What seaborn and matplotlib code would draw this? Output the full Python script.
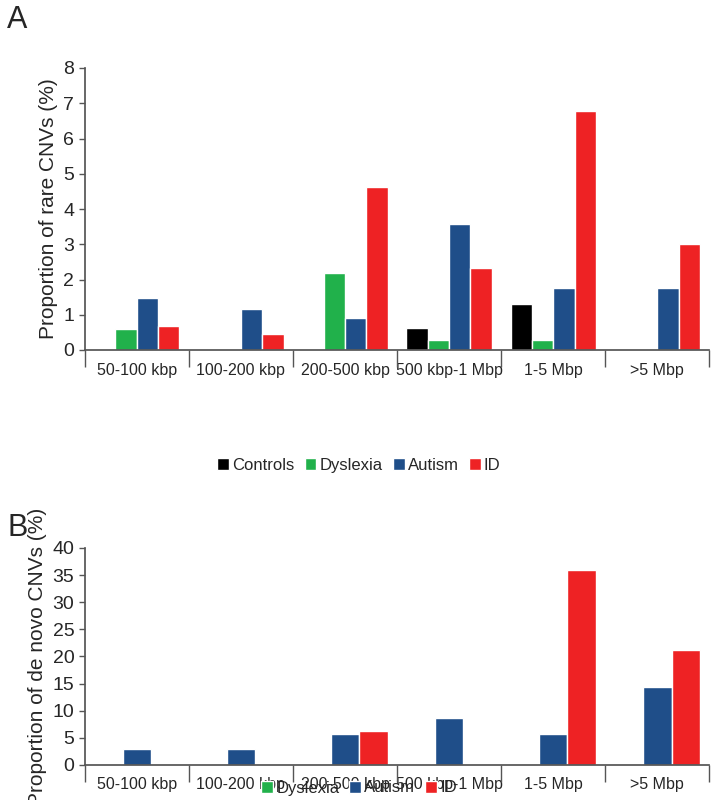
import matplotlib
matplotlib.use("Agg")
import matplotlib.pyplot as plt
import seaborn as sns
import pandas as pd
import numpy as np
from matplotlib.ticker import FixedLocator

sns.set_theme(style="white")
plt.rcParams['font.family'] = ['Liberation Sans', 'DejaVu Sans']

categories = ["50-100 kbp", "100-200 kbp", "200-500 kbp", "500 kbp-1 Mbp", "1-5 Mbp", ">5 Mbp"]
rare_controls = [0, 0, 0, 0.62, 1.3, 0]
rare_dyslexia = [0.6, 0, 2.18, 0.28, 0.28, 0]
rare_autism = [1.47, 1.16, 0.9, 3.57, 1.76, 1.76]
rare_id = [0.68, 0.45, 4.62, 2.33, 6.78, 3.0]
denovo_dyslexia = [0, 0, 0, 0, 0, 0]
denovo_autism = [2.86, 2.86, 5.7, 8.6, 5.7, 14.3]
denovo_id = [0, 0, 6.2, 0, 36.0, 21.2]

colors = {"Controls": "#000000", "Dyslexia": "#21b14b", "Autism": "#1f4e89", "ID": "#ee2224"}

def long(d):
    rows = []
    for k, v in d.items():
        for c, x in zip(categories, v):
            rows.append((c, k, x))
    return pd.DataFrame(rows, columns=["cat", "grp", "val"])

dfA = long({"Controls": rare_controls, "Dyslexia": rare_dyslexia, "Autism": rare_autism, "ID": rare_id})
dfB = long({"Dyslexia": denovo_dyslexia, "Autism": denovo_autism, "ID": denovo_id})

fig = plt.figure(figsize=(7.18, 8), dpi=100)
axA = fig.add_axes([0.118, 0.5625, 0.87, 0.3525])
axB = fig.add_axes([0.118, 0.044, 0.87, 0.271])

def style(ax, df, order, ymax, step, ylabel, legy):
    sns.barplot(data=df, x="cat", y="val", hue="grp", hue_order=order, order=categories,
                palette=[colors[o] for o in order], width=0.82, saturation=1, ax=ax, legend=True)
    ax.set_ylim(0, ymax)
    ax.set_yticks(np.arange(0, ymax + 0.01, step))
    ax.set_xlim(-0.5, 5.5)
    ax.set_xlabel("")
    ax.set_ylabel(ylabel, fontsize=15)
    ax.tick_params(axis="y", labelsize=14, left=True, length=4, width=1, color="#555")
    ax.tick_params(axis="x", labelsize=11.5, bottom=False, pad=3)
    ax.xaxis.set_minor_locator(FixedLocator(np.arange(-0.5, 6, 1)))
    ax.tick_params(axis="x", which="minor", bottom=True, length=12, width=1, color="#555")
    for s in ["top", "right"]:
        ax.spines[s].set_visible(False)
    for s in ["left", "bottom"]:
        ax.spines[s].set_color("#555")
    h, l = ax.get_legend_handles_labels()
    ax.get_legend().remove()
    fig.legend(h, l, loc="center", bbox_to_anchor=(0.5, legy), ncol=len(order), frameon=False,
               fontsize=12, handlelength=0.7, handleheight=0.7, handletextpad=0.2, columnspacing=0.6)

style(axA, dfA, ["Controls", "Dyslexia", "Autism", "ID"], 8, 1, "Proportion of rare CNVs (%)", 1 - 465/800)
style(axB, dfB, ["Dyslexia", "Autism", "ID"], 40, 5, "Proportion of de novo CNVs (%)", 1 - 788/800)

fig.text(0.01, 0.965, "A", fontsize=22)
fig.text(0.01, 0.33, "B", fontsize=22)

fig.savefig("out.png", dpi=100)
